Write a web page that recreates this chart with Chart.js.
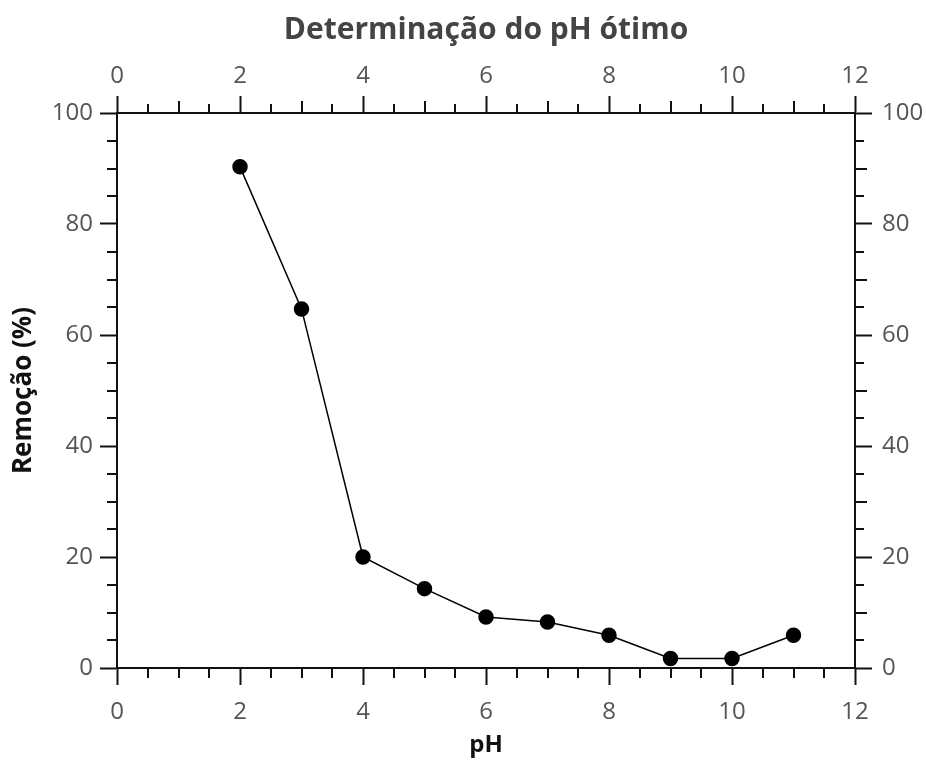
<!DOCTYPE html>
<html>
<head>
<meta charset="utf-8">
<title>Determinação do pH ótimo</title>
<script src="https://cdn.jsdelivr.net/npm/chart.js@4.4.1/dist/chart.umd.min.js"></script>
<style>
  body { margin: 0; background: #fff; }
  #wrap { width: 926px; height: 760px; }
</style>
</head>
<body>
<div id="wrap"><canvas id="phChart" width="926" height="760"></canvas></div>
<script>
// pH tested and % removal measured at each one
const phValues = [2, 3, 4, 5, 6, 7, 8, 9, 10, 11];
const removal = [90.3, 64.7, 20.0, 14.3, 9.2, 8.3, 5.9, 1.7, 1.7, 5.9];

// axis ranges / steps
const xRange = [0, 12];
const yRange = [0, 100];
const xMajor = 2;
const yMajor = 20;

const FONT = "'Open Sans', 'DejaVu Sans', sans-serif";
const AXIS = '#111';
const MAJOR_LEN = 17;

// small ticks between the labelled ones, drawn outward from each frame side
const minorTicks = {
  id: 'minorTicks',
  afterDraw(chart) {
    const ctx = chart.ctx;
    const a = chart.chartArea;
    ctx.save();
    ctx.strokeStyle = AXIS;
    ctx.lineWidth = 2;
    ctx.beginPath();
    for (let v = xRange[0]; v <= xRange[1]; v += 0.5) {
      if (v % xMajor === 0) continue;
      const px = Math.round(chart.scales.x.getPixelForValue(v));
      // bottom
      ctx.moveTo(px, a.bottom);
      ctx.lineTo(px, a.bottom + 10);
      // top: whole numbers a bit longer
      const len = Number.isInteger(v) ? 12 : 9;
      ctx.moveTo(px, a.top);
      ctx.lineTo(px, a.top - len);
    }
    for (let v = yRange[0]; v <= yRange[1]; v += 5) {
      if (v % yMajor === 0) continue;
      const py = Math.round(chart.scales.y.getPixelForValue(v));
      ctx.moveTo(a.left, py);
      ctx.lineTo(a.left - 10, py);
      const len = v % 10 === 0 ? 12 : 9;
      ctx.moveTo(a.right, py);
      ctx.lineTo(a.right + len, py);
    }
    ctx.stroke();
    ctx.restore();
  }
};

function tickFont() {
  return { family: FONT, size: 24 };
}

function xAxis(position, height, withTitle) {
  return {
    type: 'linear',
    position: position,
    min: xRange[0],
    max: xRange[1],
    afterFit: s => { s.height = height; },
    ticks: {
      stepSize: xMajor,
      color: '#555',
      font: tickFont(),
      padding: position === 'top' ? 5 : 13,
      maxRotation: 0,
      autoSkip: false
    },
    grid: { drawOnChartArea: false, tickLength: MAJOR_LEN, tickColor: AXIS, tickWidth: 2 },
    border: { display: true, color: AXIS, width: 2 },
    title: {
      display: withTitle,
      text: 'pH',
      color: '#111',
      font: { family: FONT, size: 24, weight: 'bold' },
      padding: { top: 0, bottom: 0 }
    }
  };
}

function yAxis(position, width, withTitle) {
  return {
    type: 'linear',
    position: position,
    min: yRange[0],
    max: yRange[1],
    afterFit: s => { s.width = width; },
    ticks: {
      stepSize: yMajor,
      color: '#555',
      font: tickFont(),
      padding: position === 'left' ? 7 : 10
    },
    grid: { drawOnChartArea: false, tickLength: MAJOR_LEN, tickColor: AXIS, tickWidth: 2 },
    border: { display: true, color: AXIS, width: 2 },
    title: {
      display: withTitle,
      text: 'Remoção (%)',
      color: '#111',
      font: { family: FONT, size: 26, weight: 'bold' },
      padding: { top: 8, bottom: 0 }
    }
  };
}

new Chart(document.getElementById('phChart'), {
  type: 'line',
  data: {
    datasets: [{
      label: 'Remoção',
      data: phValues.map((p, i) => ({ x: p, y: removal[i] })),
      borderColor: '#000',
      borderWidth: 1.5,
      backgroundColor: '#000',
      pointBackgroundColor: '#000',
      pointBorderColor: '#000',
      pointRadius: 7,
      pointHoverRadius: 7,
      tension: 0,
      clip: false
    }]
  },
  options: {
    responsive: false,
    animation: false,
    layout: { padding: 0 },
    scales: {
      x: xAxis('bottom', 92, true),
      x2: xAxis('top', 65, false),
      y: yAxis('left', 117, true),
      y2: yAxis('right', 71, false)
    },
    plugins: {
      legend: { display: false },
      tooltip: { enabled: false },
      title: {
        display: true,
        fullSize: false,
        text: 'Determinação do pH ótimo',
        color: '#444',
        font: { family: FONT, size: 30, weight: 'bold' },
        padding: { top: 12, bottom: 0 }
      }
    }
  },
  plugins: [minorTicks]
});
</script>
</body>
</html>
